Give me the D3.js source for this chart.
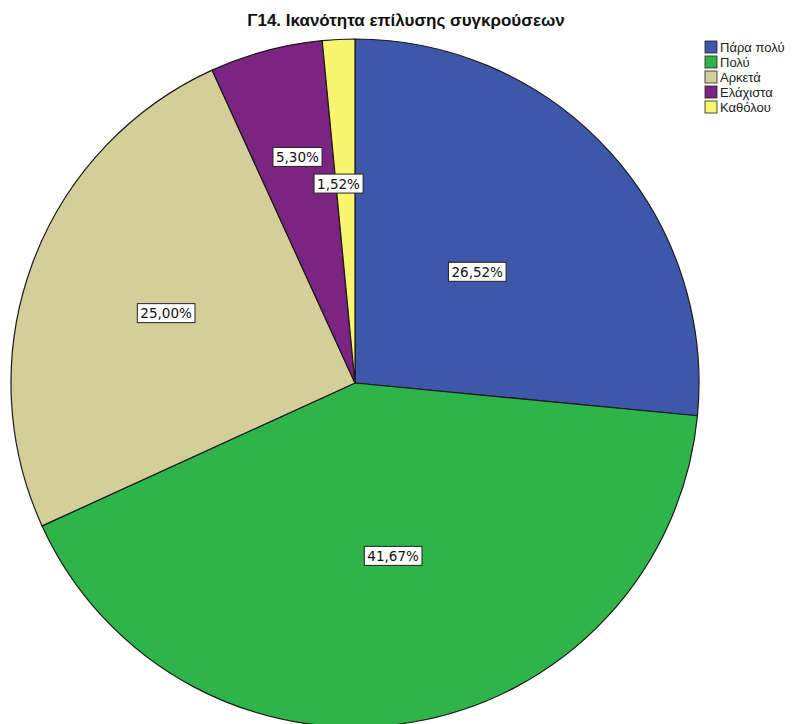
<!DOCTYPE html>
<html>
<head>
<meta charset="utf-8">
<script src="https://cdn.jsdelivr.net/npm/d3@7/dist/d3.min.js"></script>
<style>
  html, body { margin: 0; padding: 0; background: #ffffff; }
  svg { display: block; font-family: Arial, "Liberation Sans", sans-serif; }
</style>
</head>
<body>
<svg id="chart" width="808" height="724"></svg>
<script>
// Response categories and their shares (%)
const categories = ["Πάρα πολύ", "Πολύ", "Αρκετά", "Ελάχιστα", "Καθόλου"];
const percents = [26.52, 41.67, 25.00, 5.30, 1.52];
const colors = ["#3e57ab", "#2fb44a", "#d4cf98", "#7c2482", "#f9f56f"];
const title = "Γ14. Ικανότητα επίλυσης συγκρούσεων";

// Label placement: fraction of the radius for each label, plus a small sideways nudge
const labelRadiusFrac = [0.48, 0.51, 0.58, 0.68, 0.58];
const labelNudgeX = [0, 9, -2, 3, -7];

const svg = d3.select("#chart");
const cx = 355, cy = 383, R = 344;

const pie = d3.pie().sort(null).value(d => d)(percents);
const arc = d3.arc().innerRadius(0).outerRadius(R);

const g = svg.append("g").attr("transform", `translate(${cx},${cy})`);

g.selectAll("path.slice")
  .data(pie)
  .join("path")
  .attr("class", "slice")
  .attr("d", arc)
  .attr("fill", (d, i) => colors[i])
  .attr("stroke", "#1a1a1a")
  .attr("stroke-width", 1.2)
  .attr("stroke-linejoin", "round");

const fmt = v => v.toFixed(2).replace(".", ",") + "%";

const labels = g.selectAll("g.lbl")
  .data(pie)
  .join("g")
  .attr("class", "lbl")
  .attr("transform", (d, i) => {
    const r = R * labelRadiusFrac[i];
    const [x, y] = d3.arc().innerRadius(r).outerRadius(r).centroid(d);
    return `translate(${x + labelNudgeX[i]},${y})`;
  });

labels.each(function(d, i) {
  const sel = d3.select(this);
  const t = sel.append("text")
    .attr("text-anchor", "middle")
    .attr("dy", "0.36em")
    .attr("font-family", "'DejaVu Sans', Verdana, sans-serif")
    .attr("font-size", 13.5)
    .attr("fill", "#111")
    .text(fmt(percents[i]));
  const bb = t.node().getBBox();
  sel.insert("rect", "text")
    .attr("x", bb.x - 3)
    .attr("y", bb.y - 1.5)
    .attr("width", bb.width + 6)
    .attr("height", bb.height + 3)
    .attr("fill", "#ffffff")
    .attr("stroke", "#222")
    .attr("stroke-width", 1);
});

// Title
svg.append("text")
  .attr("x", 406)
  .attr("y", 26)
  .attr("text-anchor", "middle")
  .attr("font-size", 17)
  .attr("font-weight", "bold")
  .attr("fill", "#111")
  .text(title);

// Legend
const legend = svg.append("g").attr("transform", "translate(705,41)");
const rows = legend.selectAll("g")
  .data(categories)
  .join("g")
  .attr("transform", (d, i) => `translate(0,${i * 15})`);
rows.append("rect")
  .attr("width", 12)
  .attr("height", 12)
  .attr("fill", (d, i) => colors[i])
  .attr("stroke", "#222")
  .attr("stroke-width", 0.8);
rows.append("text")
  .attr("x", 15)
  .attr("y", 11)
  .attr("font-size", 13)
  .attr("fill", "#222")
  .text(d => d);
</script>
</body>
</html>
